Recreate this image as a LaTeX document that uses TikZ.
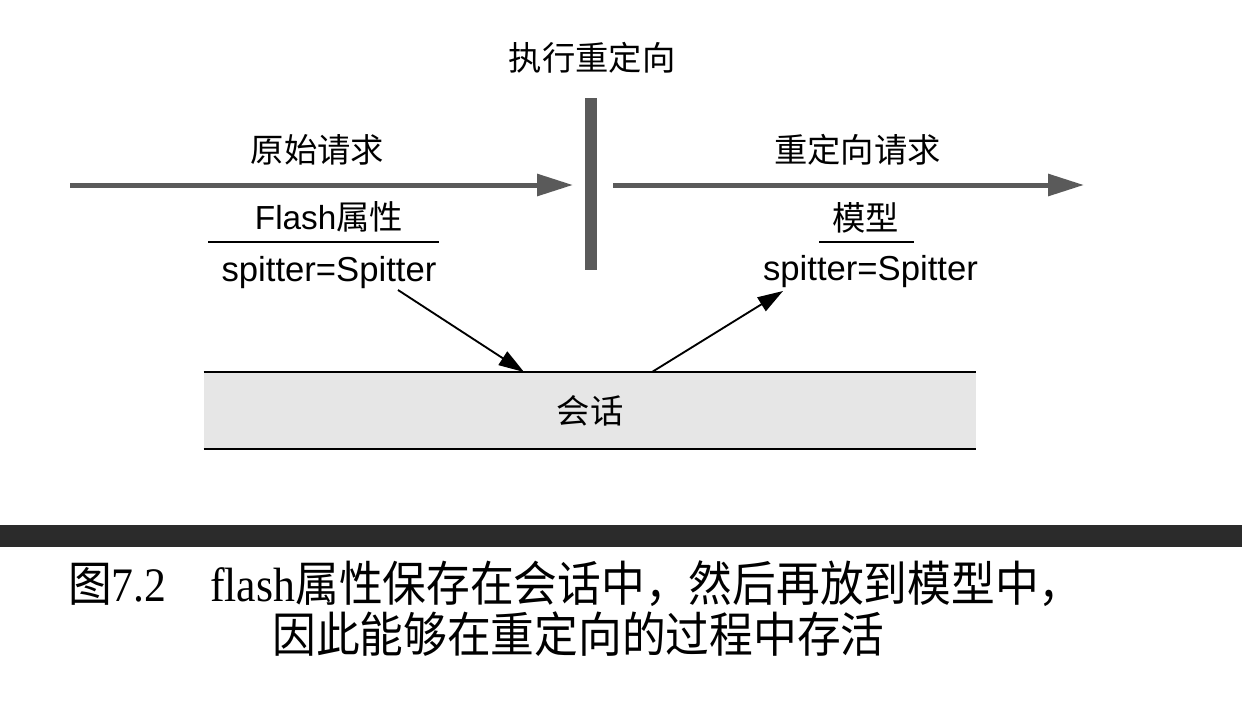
\documentclass[tikz,border=0pt]{standalone}
\usepackage{fontspec}
\setmainfont{Liberation Serif}
\newfontfamily\cjk{Noto Sans CJK SC}
\newfontfamily\sansf{Liberation Sans}
\usetikzlibrary{arrows.meta}
\definecolor{arrowgray}{HTML}{5A5A5A}
\definecolor{boxgray}{HTML}{E6E6E6}
\definecolor{bandgray}{HTML}{2B2B2B}
\begin{document}
\begin{tikzpicture}[x=0.75pt,y=-0.75pt,
  lbl/.style={inner sep=0pt, anchor=base, font=\fontsize{25}{30}\selectfont\cjk},
  code/.style={inner sep=0pt, anchor=base, font=\fontsize{26}{31}\selectfont\sansf},
  captext/.style={inner sep=0pt, anchor=base west, font=\fontsize{32.8}{40}\selectfont\cjk},
  bigarrow/.style={draw=arrowgray, line width=3.75pt, -{Triangle[length=27pt,width=16pt]}},
  thinarrow/.style={draw=black, line width=1.4pt, -{Triangle[length=19pt,width=12pt]}},
  rulestyle/.style={draw=black, line width=1.4pt},
  sessbox/.style={fill=boxgray, minimum width=579pt, minimum height=57.75pt, inner sep=0pt,
    font=\fontsize{25}{30}\selectfont\cjk}
]
\useasboundingbox (0,0) rectangle (1242,722);
\fill[white] (0,0) rectangle (1242,722);

% labels
\node[lbl] (exec) at (592,70) {执行重定向};
\node[lbl] (orig) at (317.5,162) {原始请求};
\node[lbl] (redir) at (857.5,162) {重定向请求};
\node[lbl] (flash) at (329,229) {{\sansf Flash}属性};
\node[lbl] (model) at (865.5,230) {模型};
\node[code] (sp1) at (329,281) {spitter=Spitter};
\node[code] (sp2) at (870.5,280) {spitter=Spitter};

% underlines
\coordinate (u1a) at (208,242); \coordinate (u1b) at (439,242);
\coordinate (u2a) at (819,242); \coordinate (u2b) at (914,242);
\draw[rulestyle] (u1a) -- (u1b);
\draw[rulestyle] (u2a) -- (u2b);

% redirect bar
\fill[arrowgray] (585,98) rectangle (597,270);

% big arrows
\coordinate (a1s) at (70,185); \coordinate (a1e) at (573,185);
\coordinate (a2s) at (613,185); \coordinate (a2e) at (1084,185);
\draw[bigarrow] (a1s) -- (a1e);
\draw[bigarrow] (a2s) -- (a2e);

% session box
\node[sessbox] (box) at (590,410.5) {会话};
\draw[rulestyle] (box.north west) -- (box.north east);
\draw[rulestyle] (box.south west) -- (box.south east);

% thin arrows
\coordinate (t1s) at (398,290); \coordinate (t1e) at (524,372);
\coordinate (t2s) at (652,372); \coordinate (t2e) at (783,291);
\draw[thinarrow] (t1s) -- (t1e);
\draw[thinarrow] (t2s) -- (t2e);

% band
\fill[bandgray] (0,525) rectangle (1242,547);

% caption
\node[captext] (fig) at (68,601) {\scalebox{1}[1.1]{图{\rmfamily 7.2}}};
\node[captext] (cap1) at (210,601) {\scalebox{1}[1.1]{{\rmfamily flash}属性保存在会话中，然后再放到模型中，}};
\node[captext] (cap2) at (272,652) {\scalebox{1}[1.1]{因此能够在重定向的过程中存活}};
\end{tikzpicture}
\end{document}
